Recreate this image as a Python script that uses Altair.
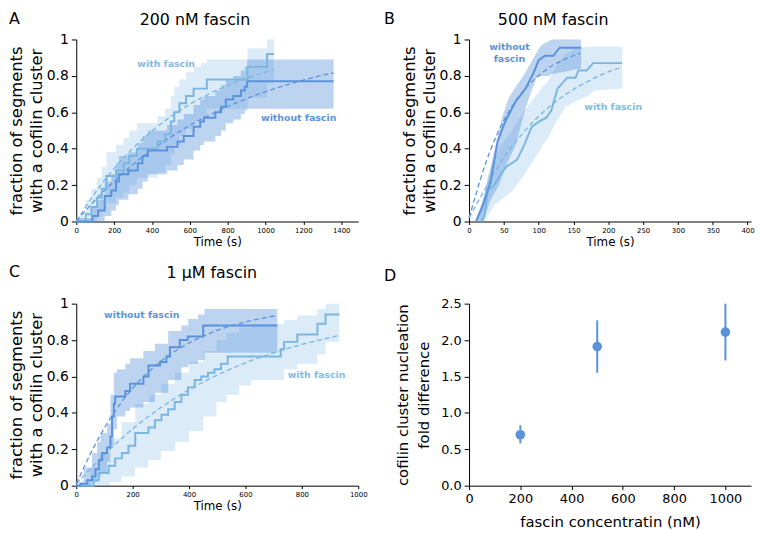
import altair as alt
import pandas as pd

DARK = "#5b93db"
LIGHT = "#7ab6e0"
FONT = "DejaVu Sans"

# ---------------- A: 200 nM fascin ----------------
a_wo_t = [0, 85, 115, 150, 185, 210, 225, 275, 325, 350, 378, 480, 535, 568, 620, 655, 675, 735, 765, 790, 830, 870, 890, 903, 1360]
a_wo_v = [0, 0.03, 0.06, 0.14, 0.17, 0.22, 0.26, 0.28, 0.32, 0.36, 0.39, 0.41, 0.44, 0.47, 0.52, 0.55, 0.57, 0.60, 0.63, 0.67, 0.69, 0.72, 0.74, 0.77, 0.77]
a_wo_lo = [0, 0, 0, 0.03, 0.06, 0.09, 0.12, 0.15, 0.18, 0.22, 0.26, 0.28, 0.31, 0.34, 0.39, 0.42, 0.44, 0.47, 0.50, 0.54, 0.56, 0.59, 0.61, 0.62, 0.62]
a_wo_hi = [0.02, 0.08, 0.12, 0.22, 0.26, 0.32, 0.36, 0.38, 0.43, 0.47, 0.50, 0.53, 0.56, 0.59, 0.64, 0.67, 0.69, 0.72, 0.75, 0.78, 0.80, 0.83, 0.85, 0.89, 0.89]

a_w_t = [0, 50, 80, 110, 135, 160, 210, 250, 280, 320, 430, 470, 500, 518, 545, 580, 620, 660, 690, 905, 1008, 1045]
a_w_v = [0, 0.04, 0.08, 0.13, 0.18, 0.25, 0.28, 0.32, 0.36, 0.40, 0.44, 0.48, 0.55, 0.60, 0.65, 0.69, 0.73, 0.73, 0.78, 0.85, 0.92, 0.92]
a_w_lo = [0, 0, 0, 0.03, 0.06, 0.10, 0.13, 0.16, 0.20, 0.24, 0.27, 0.31, 0.37, 0.42, 0.47, 0.51, 0.55, 0.57, 0.62, 0.68, 0.76, 0.76]
a_w_hi = [0.03, 0.12, 0.18, 0.24, 0.30, 0.38, 0.42, 0.46, 0.50, 0.54, 0.58, 0.62, 0.69, 0.74, 0.78, 0.82, 0.85, 0.87, 0.89, 0.95, 1.0, 1.0]

a_wo_fit_t = [0, 100, 200, 300, 400, 500, 600, 700, 800, 900, 1000, 1100, 1200, 1300, 1360]
a_wo_fit_v = [0, 0.118, 0.221, 0.313, 0.393, 0.465, 0.528, 0.583, 0.632, 0.675, 0.713, 0.747, 0.777, 0.803, 0.817]
a_w_fit_t = [0, 100, 200, 300, 400, 500, 600, 700, 800, 900, 1000, 1045]
a_w_fit_v = [0, 0.158, 0.291, 0.403, 0.497, 0.577, 0.644, 0.700, 0.747, 0.787, 0.821, 0.834]

# ---------------- B: 500 nM fascin ----------------
b_wo_t = [10, 19, 31, 41, 52, 67, 81, 93, 100, 109, 121, 130, 161]
b_wo_v = [0, 0.08, 0.22, 0.44, 0.55, 0.66, 0.73, 0.82, 0.886, 0.91, 0.91, 0.955, 0.955]
b_wo_band_t = [10, 20, 31, 43, 48, 57, 67, 76, 81, 90, 97, 104, 114, 119, 161]
b_wo_lo = [0, 0, 0.12, 0.20, 0.26, 0.34, 0.42, 0.55, 0.62, 0.72, 0.79, 0.80, 0.80, 0.81, 0.84]
b_wo_hi = [0.02, 0.12, 0.30, 0.50, 0.58, 0.68, 0.74, 0.79, 0.82, 0.88, 0.93, 0.97, 0.99, 1.0, 1.0]

b_w_t = [18, 22, 27, 36, 53, 69, 78, 90, 101, 111, 118, 127, 141, 153, 157, 169, 178, 220]
b_w_v = [0, 0.03, 0.17, 0.20, 0.30, 0.34, 0.41, 0.52, 0.55, 0.57, 0.61, 0.73, 0.79, 0.79, 0.83, 0.83, 0.87, 0.87]
b_w_band_t = [15, 22, 27, 36, 46, 60, 78, 92, 106, 115, 127, 139, 153, 171, 180, 220]
b_w_lo = [0, 0, 0.03, 0.09, 0.12, 0.16, 0.25, 0.33, 0.42, 0.47, 0.56, 0.63, 0.66, 0.69, 0.72, 0.73]
b_w_hi = [0.05, 0.15, 0.25, 0.34, 0.42, 0.49, 0.60, 0.67, 0.74, 0.78, 0.87, 0.92, 0.95, 0.96, 0.96, 0.96]

b_wo_fit_t = [0, 10, 20, 30, 40, 50, 60, 70, 80, 100, 120, 140, 160]
b_wo_fit_v = [0.02, 0.15, 0.277, 0.385, 0.477, 0.555, 0.622, 0.678, 0.726, 0.802, 0.857, 0.896, 0.925]
b_w_fit_t = [0, 20, 40, 60, 80, 100, 120, 140, 160, 180, 200, 220]
b_w_fit_v = [0.02, 0.158, 0.292, 0.404, 0.498, 0.578, 0.645, 0.701, 0.748, 0.788, 0.822, 0.850]

# ---------------- C: 1 µM fascin ----------------
c_wo_t = [0, 15, 39, 56, 68, 80, 92, 109, 121, 127, 133, 138, 174, 191, 238, 256, 297, 320, 332, 367, 395, 450, 713]
c_wo_v = [0, 0.01, 0.03, 0.05, 0.09, 0.14, 0.18, 0.21, 0.27, 0.38, 0.45, 0.49, 0.52, 0.56, 0.60, 0.66, 0.68, 0.71, 0.76, 0.80, 0.82, 0.88, 0.88]
c_wo_band_t = [9, 27, 56, 74, 86, 109, 121, 133, 144, 174, 191, 238, 279, 326, 373, 397, 432, 455, 713]
c_wo_lo = [0, 0, 0.02, 0.05, 0.07, 0.13, 0.22, 0.31, 0.38, 0.41, 0.43, 0.46, 0.51, 0.58, 0.65, 0.67, 0.69, 0.73, 0.73]
c_wo_hi = [0.02, 0.10, 0.18, 0.24, 0.29, 0.34, 0.50, 0.62, 0.64, 0.67, 0.70, 0.74, 0.78, 0.85, 0.88, 0.915, 0.94, 0.97, 0.97]

c_w_t = [0, 50, 62, 80, 115, 138, 162, 185, 209, 256, 279, 302, 326, 349, 373, 396, 420, 443, 467, 490, 513, 537, 714, 725, 737, 784, 855, 884, 933]
c_w_v = [0, 0, 0.03, 0.07, 0.11, 0.15, 0.18, 0.22, 0.29, 0.32, 0.36, 0.39, 0.42, 0.46, 0.50, 0.54, 0.58, 0.60, 0.62, 0.64, 0.67, 0.71, 0.71, 0.75, 0.79, 0.83, 0.89, 0.94, 0.94]
c_w_band_t = [20, 50, 80, 120, 160, 209, 256, 300, 350, 400, 450, 497, 533, 577, 620, 714, 737, 784, 855, 884, 933]
c_w_lo = [0, 0, 0, 0.02, 0.05, 0.10, 0.14, 0.19, 0.24, 0.30, 0.38, 0.46, 0.50, 0.55, 0.58, 0.58, 0.64, 0.67, 0.72, 0.79, 0.79]
c_w_hi = [0.03, 0.10, 0.18, 0.26, 0.35, 0.45, 0.50, 0.56, 0.62, 0.68, 0.74, 0.80, 0.84, 0.87, 0.89, 0.89, 0.91, 0.935, 0.97, 1.0, 1.0]

c_wo_fit_t = [0, 50, 100, 150, 200, 300, 400, 500, 600, 713]
c_wo_fit_v = [0.01, 0.174, 0.318, 0.437, 0.535, 0.683, 0.784, 0.853, 0.899, 0.935]
c_w_fit_t = [0, 100, 200, 300, 400, 500, 600, 700, 800, 933]
c_w_fit_v = [0.01, 0.171, 0.312, 0.429, 0.527, 0.607, 0.675, 0.730, 0.776, 0.825]

# ---------------- D: fold difference ----------------
d_conc = [200, 500, 1000]
d_fold = [0.70, 1.91, 2.11]
d_lo = [0.58, 1.55, 1.72]
d_hi = [0.83, 2.27, 2.50]

frac_ticks = [0, 0.2, 0.4, 0.6, 0.8, 1]


def label(text, x, y, size=16, align="left", baseline="top"):
    return alt.Chart(pd.DataFrame({"s": [text]})).mark_text(
        align=align, baseline=baseline, fontSize=size, font=FONT, color="#000"
    ).encode(text="s:N", x=alt.value(x), y=alt.value(y))


def curve_panel(xmax, xticks, wo, w, fits, notes, interp, letter, title, title_x, head_y):
    xs = alt.Scale(domain=[0, xmax], nice=False)
    ys = alt.Scale(domain=[0, 1], nice=False)
    x_axis = alt.Axis(values=xticks, format="d", title="Time (s)", labelFontSize=7, tickSize=3,
                      labelPadding=2, labelFlush=False, titleFontSize=12, titlePadding=3)
    y_axis = alt.Axis(values=frac_ticks, tickSize=5, labelPadding=3, labelFontSize=14,
                      labelExpr="datum.value == 0 ? '0' : datum.value == 1 ? '1' : format(datum.value, '.1f')",
                      title=["fraction of segments", "with a cofilin cluster"],
                      titleFontSize=16.5, titleLineHeight=20, titlePadding=2)
    X = alt.X("t:Q", scale=xs, axis=x_axis)

    def band(t, lo, hi, color, opacity):
        return alt.Chart(pd.DataFrame({"t": t, "lo": lo, "hi": hi})).mark_area(
            interpolate=interp, color=color, opacity=opacity
        ).encode(x=X, y=alt.Y("lo:Q", scale=ys, axis=y_axis), y2="hi:Q")

    def line(t, v, color, dashed=False, kind=interp):
        props = dict(color=color, strokeWidth=1.3 if dashed else 2, interpolate=kind)
        if dashed:
            props["strokeDash"] = [5, 3]
        return alt.Chart(pd.DataFrame({"t": t, "v": v})).mark_line(**props).encode(
            x=X, y=alt.Y("v:Q", scale=ys, axis=y_axis))

    note_df = pd.DataFrame(notes, columns=["t", "v", "txt", "c"])
    note_layer = alt.Chart(note_df).mark_text(
        fontWeight="bold", fontSize=9.5, font=FONT
    ).encode(x=X, y=alt.Y("v:Q", scale=ys, axis=y_axis), text="txt:N",
             color=alt.Color("c:N", scale=None))

    layers = [
        band(w[0], w[2], w[3], LIGHT, 0.27),
        band(wo[0], wo[2], wo[3], DARK, 0.4),
        line(fits[1][0], fits[1][1], LIGHT, True, "monotone"),
        line(fits[0][0], fits[0][1], DARK, True, "monotone"),
        line(w[4], w[1], LIGHT),
        line(wo[4], wo[1], DARK),
        note_layer,
        label(letter[0], letter[1], letter[2]),
        label(title, title_x, head_y, align="center"),
    ]
    return alt.layer(*layers).properties(width=285, height=184)


panel_a = curve_panel(
    1490, [0, 200, 400, 600, 800, 1000, 1200, 1400],
    (a_wo_t, a_wo_v, a_wo_lo, a_wo_hi, a_wo_t),
    (a_w_t, a_w_v, a_w_lo, a_w_hi, a_w_t),
    ((a_wo_fit_t, a_wo_fit_v), (a_w_fit_t, a_w_fit_v)),
    [[475, 0.864, "with fascin", "#82bbe3"], [1175, 0.57, "without fascin", DARK]],
    "step-after", ("A", -68, -29), "200 nM fascin", 120, -28)

panel_b = curve_panel(
    405, [0, 50, 100, 150, 200, 250, 300, 350, 400],
    (b_wo_band_t, b_wo_v, b_wo_lo, b_wo_hi, b_wo_t),
    (b_w_band_t, b_w_v, b_w_lo, b_w_hi, b_w_t),
    ((b_wo_fit_t, b_wo_fit_v), (b_w_fit_t, b_w_fit_v)),
    [[58, 0.957, "without", DARK], [58, 0.89, "fascin", DARK], [207, 0.63, "with fascin", "#82bbe3"]],
    "linear", ("B", -86, -29), "500 nM fascin", 85, -28)

panel_c = curve_panel(
    1000, [0, 200, 400, 600, 800, 1000],
    (c_wo_band_t, c_wo_v, c_wo_lo, c_wo_hi, c_wo_t),
    (c_w_band_t, c_w_v, c_w_lo, c_w_hi, c_w_t),
    ((c_wo_fit_t, c_wo_fit_v), (c_w_fit_t, c_w_fit_v)),
    [[232, 0.94, "without fascin", DARK], [852, 0.61, "with fascin", "#82bbe3"]],
    "step-after", ("C", -68, -40), "1 µM fascin", 137, -39)

d_df = pd.DataFrame({"conc": d_conc, "fold": d_fold, "lo": d_lo, "hi": d_hi})
dx = alt.X("conc:Q", scale=alt.Scale(domain=[0, 1100], nice=False),
           axis=alt.Axis(values=[0, 200, 400, 600, 800, 1000], format="d",
                         title="fascin concentratin (nM)",
                         labelFontSize=13, tickSize=4, labelPadding=3, labelFlush=False,
                         titleFontSize=15, titlePadding=9))
dy_axis = alt.Axis(values=[0, 0.5, 1.0, 1.5, 2.0, 2.5], format=".1f", labelFontSize=13,
                   tickSize=5, labelPadding=3,
                   title=["cofilin cluster nucleation", "fold difference"],
                   titleFontSize=15, titleLineHeight=22, titlePadding=9)
dys = alt.Scale(domain=[0, 2.5], nice=False)
panel_d = alt.layer(
    alt.Chart(d_df).mark_rule(color=DARK, strokeWidth=2).encode(
        x=dx, y=alt.Y("lo:Q", scale=dys, axis=dy_axis), y2="hi:Q"),
    alt.Chart(d_df).mark_circle(color=DARK, size=95, opacity=1).encode(
        x=dx, y=alt.Y("fold:Q", scale=dys, axis=dy_axis)),
    label("D", -86, -36),
).properties(width=285, height=184)

chart = alt.concat(
    panel_a, panel_b, panel_c, panel_d,
    columns=2, spacing={"row": 83, "column": 112}, bounds="flush"
).properties(padding=0, background="white").configure_view(
    strokeWidth=0
).configure_axis(
    grid=False, domainColor="#000", tickColor="#000", labelColor="#000", titleColor="#000",
    labelFont=FONT, titleFont=FONT, titleFontWeight="normal", domainWidth=1, tickWidth=1
)

chart.save("out.html", embed_options={"renderer": "svg", "actions": False})
